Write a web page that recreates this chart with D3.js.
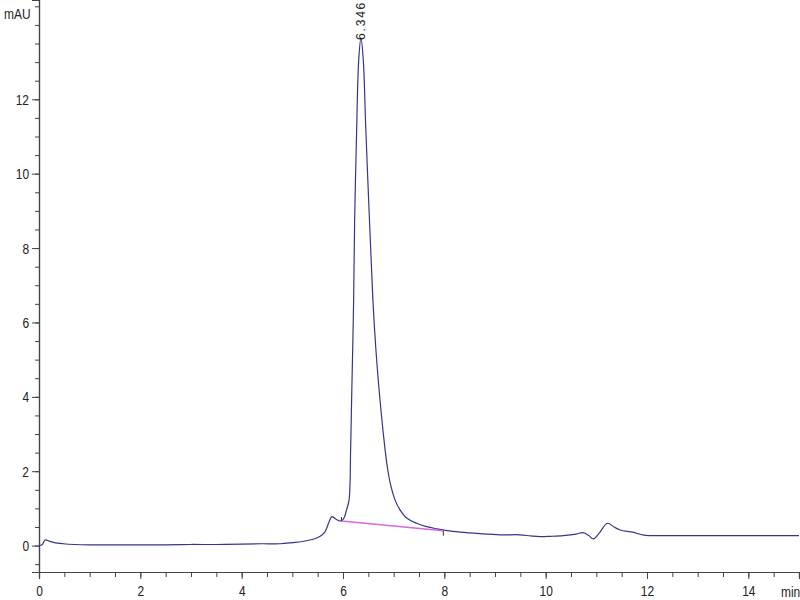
<!DOCTYPE html>
<html>
<head>
<meta charset="utf-8">
<script src="https://cdn.jsdelivr.net/npm/d3@7/dist/d3.min.js"></script>
<style>
  html, body { margin: 0; padding: 0; background: #fff; }
  svg text { font-family: "Liberation Sans", Arial, sans-serif; font-size: 15.5px; fill: #222; }
  .sx-end { transform-box: fill-box; transform: scaleX(0.77); transform-origin: 100% 50%; }
  .sx-mid { transform-box: fill-box; transform: scaleX(0.77); transform-origin: 50% 50%; }
  .sx-start { transform-box: fill-box; transform: scaleX(0.77); transform-origin: 0% 50%; }
  .peak-label { font-size: 12px; letter-spacing: 1.8px; }
</style>
</head>
<body>
<svg id="chart" width="800" height="600"></svg>
<script>
// Retention time (min) and absorbance (mAU)
const times = [0, 0.06, 0.12, 0.2, 0.3, 0.48, 0.7, 1.0, 1.5, 2.0, 2.5, 3.0, 3.5, 4.0, 4.4, 4.76, 5.0, 5.2, 5.41, 5.55, 5.64, 5.72, 5.78, 5.85, 5.92, 5.97, 6.02, 6.07, 6.12, 6.15, 6.17, 6.21, 6.23, 6.27, 6.31, 6.355, 6.40, 6.45, 6.53, 6.59, 6.65, 6.73, 6.795, 6.874, 6.947, 7.026, 7.125, 7.257, 7.454, 7.651, 7.85, 8.05, 8.31, 8.7, 9.1, 9.49, 9.7, 9.89, 10.1, 10.35, 10.6, 10.74, 10.85, 10.94, 11.05, 11.22, 11.35, 11.47, 11.72, 11.94, 12.5, 13, 14, 15];
const signal = [0.0, 0.02, 0.15, 0.12, 0.08, 0.05, 0.03, 0.02, 0.02, 0.02, 0.02, 0.03, 0.03, 0.04, 0.05, 0.05, 0.08, 0.11, 0.17, 0.25, 0.36, 0.62, 0.78, 0.72, 0.67, 0.66, 0.74, 0.96, 1.23, 2.56, 3.92, 6.6, 8.75, 11.2, 13.06, 13.65, 13.06, 11.2, 8.5, 6.6, 5.26, 3.92, 3.02, 2.12, 1.59, 1.23, 0.96, 0.74, 0.60, 0.51, 0.45, 0.40, 0.36, 0.32, 0.29, 0.29, 0.26, 0.24, 0.25, 0.27, 0.31, 0.35, 0.27, 0.18, 0.32, 0.60, 0.50, 0.42, 0.36, 0.28, 0.27, 0.27, 0.27, 0.27];

// Integration baseline of the main peak
const baseTimes = [5.97, 7.98];
const baseValues = [0.66, 0.40];

// Peak annotation
const peakTime = [6.346];
const peakLabel = ["6.346"];
const peakHeight = [13.65];

// Axis ticks
const xMajorTicks = [0, 2, 4, 6, 8, 10, 12, 14];
const yMajorTicks = [0, 2, 4, 6, 8, 10, 12];
const xMinorTicks = d3.range(0, 15.01, 0.5);
const yMinorTicks = d3.range(-0.5, 14.51, 0.5);

const svg = d3.select("#chart");
const x = d3.scaleLinear().domain([0, 15]).range([39, 799]);
const y = d3.scaleLinear().domain([-0.71, 14.67]).range([572, 0]);

const axisColor = "#444";

function styleAxis(g) {
  g.attr("font-family", null).attr("font-size", null);
  g.select(".domain").attr("stroke", axisColor).attr("stroke-width", 1.2);
  g.selectAll(".tick line").attr("stroke", axisColor);
}

// Y axis
const gyMinor = svg.append("g").attr("transform", `translate(${x(0)},0)`)
  .call(d3.axisLeft(y).tickValues(yMinorTicks).tickSize(4).tickFormat(""));
const gy = svg.append("g").attr("transform", `translate(${x(0)},0)`)
  .call(d3.axisLeft(y).tickValues(yMajorTicks).tickSize(7).tickPadding(3).tickFormat(d3.format("d")));
styleAxis(gyMinor); styleAxis(gy);
gy.selectAll(".tick text").attr("class", "sx-end");

// X axis
const gxMinor = svg.append("g").attr("transform", `translate(0,${y(-0.71)})`)
  .call(d3.axisBottom(x).tickValues(xMinorTicks).tickSize(5).tickFormat(""));
const gx = svg.append("g").attr("transform", `translate(0,${y(-0.71)})`)
  .call(d3.axisBottom(x).tickValues(xMajorTicks).tickSize(7).tickPadding(6).tickFormat(d3.format("d")));
styleAxis(gxMinor); styleAxis(gx);
gx.selectAll(".tick text").attr("class", "sx-mid");

// Axis unit labels
svg.append("text").attr("class", "sx-start").attr("x", 4).attr("y", 19).text("mAU");
svg.append("text").attr("class", "sx-start").attr("x", 781).attr("y", 597).text("min");

// Trace
const pts = times.map((t, i) => [t, signal[i]]);
const line = d3.line().x(d => x(d[0])).y(d => y(d[1])).curve(d3.curveCatmullRom.alpha(0.5));
svg.append("path").datum(pts)
  .attr("d", line)
  .attr("fill", "none")
  .attr("stroke", "#35358f")
  .attr("stroke-width", 1.2);

// Baseline
const basePts = baseTimes.map((t, i) => [t, baseValues[i]]);
svg.append("path").datum(basePts)
  .attr("d", d3.line().x(d => x(d[0])).y(d => y(d[1])))
  .attr("fill", "none")
  .attr("stroke", "#dd66dd")
  .attr("stroke-width", 1.4);
svg.selectAll(".bmark").data(basePts).enter().append("line")
  .attr("x1", d => x(d[0])).attr("x2", d => x(d[0]))
  .attr("y1", (d, i) => i === 0 ? y(d[1]) - 4 : y(d[1]))
  .attr("y2", (d, i) => i === 0 ? y(d[1]) : y(d[1]) + 5)
  .attr("stroke", "#333").attr("stroke-width", 1);

// Peak label
svg.selectAll(".plabel").data(peakTime).enter().append("g")
  .attr("transform", (d, i) => `translate(${x(d) + 4.5},${y(peakHeight[i]) + 2}) rotate(-90)`)
  .append("text").attr("class", "peak-label")
  .text((d, i) => peakLabel[i]);
</script>
</body>
</html>
